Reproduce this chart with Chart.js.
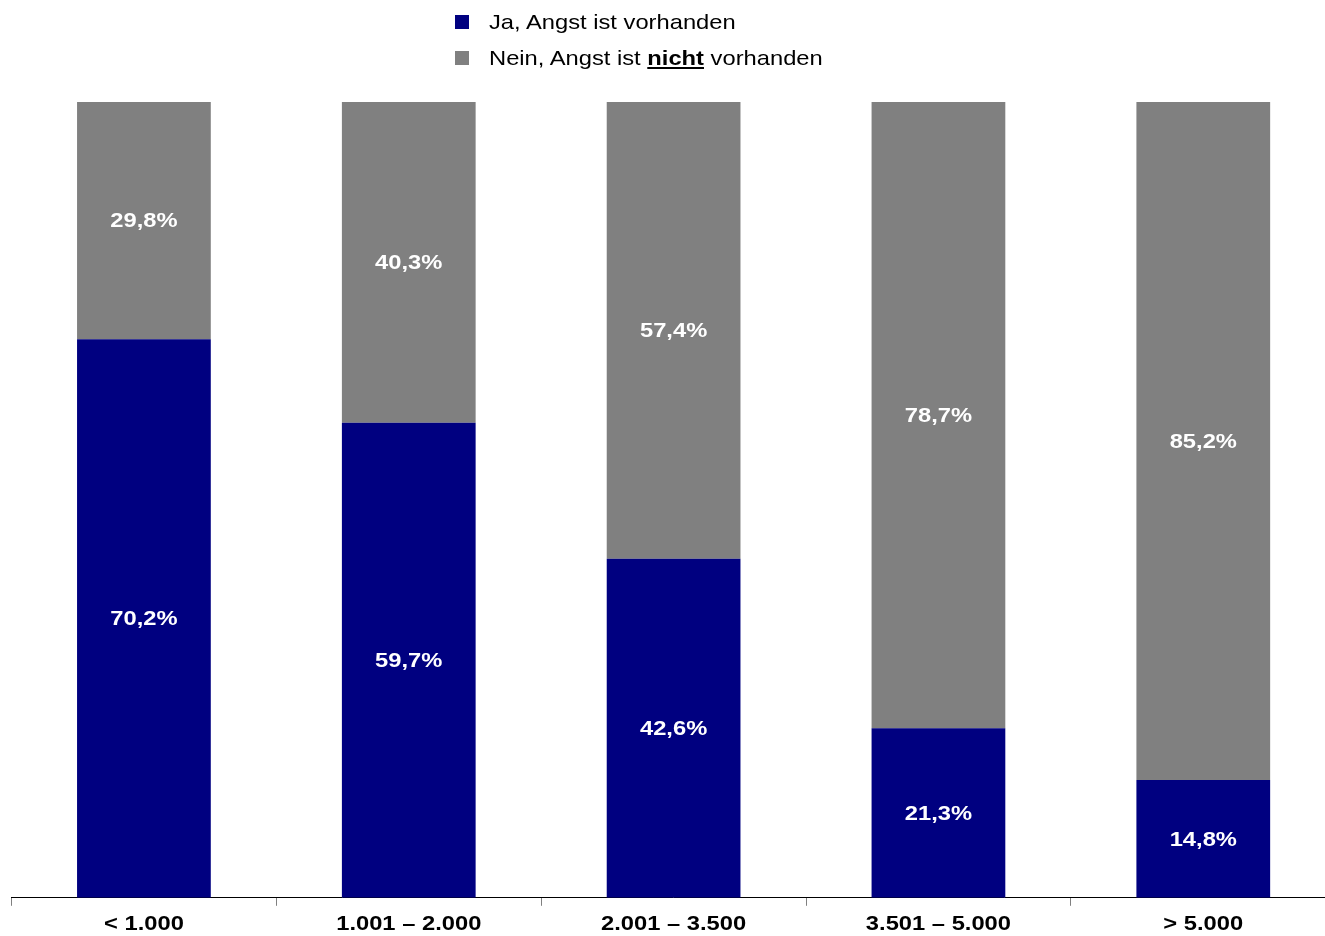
<!DOCTYPE html>
<html>
<head>
<meta charset="utf-8">
<script src="https://cdn.jsdelivr.net/npm/chart.js@4/dist/chart.umd.min.js"></script>
<style>
  html, body { margin: 0; padding: 0; background: #fff; overflow: hidden; width: 1325px; height: 936px; }
  #wrap { position: absolute; left: 0; top: 0; width: 1340px; height: 936px; }
  #legend { position: absolute; left: 455px; top: 8px; font-family: "Liberation Sans", Arial, sans-serif; font-size: 21px; color: #000; }
  .item { position: relative; height: 36px; line-height: 28px; white-space: nowrap; }
  .sw { position: absolute; left: 0; top: 7px; width: 14px; height: 14px; }
  .txt { position: absolute; left: 34px; top: 0; transform: scaleX(1.13); transform-origin: 0 50%; }
</style>
</head>
<body>
<div id="wrap"><canvas id="c" width="1340" height="936"></canvas></div>
<div id="legend">
  <div class="item"><span class="sw" style="background:#000080"></span><span class="txt" id="l0"></span></div>
  <div class="item"><span class="sw" style="background:#808080"></span><span class="txt" id="l1"></span></div>
</div>
<script>
const categories = ["< 1.000", "1.001 \u2013 2.000", "2.001 \u2013 3.500", "3.501 \u2013 5.000", "> 5.000"];
const seriesNames = ["Ja, Angst ist vorhanden", "Nein, Angst ist nicht vorhanden"];
const jaValues = [70.2, 59.7, 42.6, 21.3, 14.8];
const neinValues = [29.8, 40.3, 57.4, 78.7, 85.2];
const colors = ["#000080", "#808080"];

document.getElementById('l0').textContent = seriesNames[0];
document.getElementById('l1').innerHTML = seriesNames[1].replace('nicht', '<b><u>nicht</u></b>');

const FONT = 'bold 21px "Liberation Sans", Arial, sans-serif';
const STRETCH = 1.13;

function stretchedText(ctx, text, x, y) {
  ctx.save();
  ctx.translate(x, y);
  ctx.scale(STRETCH, 1);
  ctx.fillText(text, 0, 0);
  ctx.restore();
}

const labelPlugin = {
  id: 'barLabels',
  afterDatasetsDraw(chart) {
    const ctx = chart.ctx;
    ctx.save();
    ctx.font = FONT;
    ctx.fillStyle = '#ffffff';
    ctx.textAlign = 'center';
    ctx.textBaseline = 'middle';
    chart.data.datasets.forEach((ds, di) => {
      const meta = chart.getDatasetMeta(di);
      meta.data.forEach((bar, i) => {
        const y = (bar.y + bar.base) / 2;
        stretchedText(ctx, ds.data[i].toFixed(1).replace('.', ',') + '%', bar.x, y + 1);
      });
    });
    ctx.restore();
  },
  afterDraw(chart) {
    const ctx = chart.ctx;
    const xs = chart.scales.x;
    ctx.save();
    ctx.font = FONT;
    ctx.fillStyle = '#000000';
    ctx.textAlign = 'center';
    ctx.textBaseline = 'middle';
    chart.data.labels.forEach((lab, i) => {
      stretchedText(ctx, lab, xs.getPixelForTick(i), chart.chartArea.bottom + 26);
    });
    ctx.restore();
  }
};

new Chart(document.getElementById('c'), {
  type: 'bar',
  data: {
    labels: categories,
    datasets: [
      { label: seriesNames[0], data: jaValues, backgroundColor: colors[0], borderWidth: 0 },
      { label: seriesNames[1], data: neinValues, backgroundColor: colors[1], borderWidth: 0 }
    ]
  },
  options: {
    responsive: false,
    animation: false,
    layout: { padding: { top: 102, left: 11.5, right: 4.3, bottom: -1 } },
    plugins: { legend: { display: false }, tooltip: { enabled: false } },
    datasets: { bar: { barPercentage: 0.505, categoryPercentage: 1 } },
    scales: {
      x: {
        stacked: true,
        grid: { offset: true, drawOnChartArea: false, drawTicks: true, tickLength: 8, color: '#808080' },
        border: { display: true, color: '#000000', width: 1 },
        ticks: { color: 'rgba(0,0,0,0)', font: { family: '"Liberation Sans", Arial, sans-serif', size: 21, weight: 'bold' }, padding: 3, maxRotation: 0, autoSkip: false }
      },
      y: { stacked: true, display: false, min: 0, max: 100 }
    }
  },
  plugins: [labelPlugin]
});
</script>
</body>
</html>
